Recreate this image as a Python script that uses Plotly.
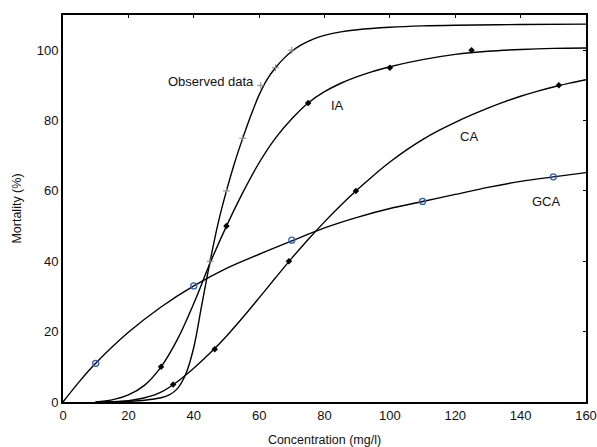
import plotly.graph_objects as go

# ---- observed / predicted data points ----
obs_x = [45, 50, 55, 60.5, 65, 70]
obs_y = [40, 60, 75, 90, 95, 100]

ia_x = [30, 50, 75, 100, 125]
ia_y = [10, 50, 85, 95, 100]

ca_x = [33.7, 46.4, 69.1, 89.6, 151.7]
ca_y = [5, 15, 40, 60, 90]

gca_x = [10, 40, 70, 110, 150]
gca_y = [11, 33, 46, 57, 64]

# ---- fitted curves ----
obs_cx = [10, 15, 20, 25, 30, 32.5, 35, 37.5, 40, 42.5, 45, 47.5, 50, 52.5, 55, 57.5, 60, 62.5, 65, 67.5, 70, 72.5, 75, 77.5, 80, 85, 90, 100, 110, 120, 140, 160]
obs_cy = [0, 0.05, 0.2, 0.5, 1.2, 2.0, 3.8, 7.8, 15.5, 27.8, 40, 51, 60, 68, 75, 81.5, 87.3, 91.8, 95, 97.6, 99.7, 101.3, 102.5, 103.5, 104.2, 105.2, 105.8, 106.5, 106.9, 107.1, 107.3, 107.4]

ia_cx = [10, 15, 20, 25, 30, 35, 40, 45, 50, 55, 60, 65, 70, 75, 80, 85, 90, 95, 100, 110, 120, 130, 140, 150, 160]
ia_cy = [0, 0.6, 2.0, 4.8, 10, 17.8, 28, 39.5, 50, 59.5, 68, 75, 80.5, 85, 88.2, 90.6, 92.5, 94, 95.3, 97.3, 98.8, 99.7, 100.2, 100.5, 100.6]

ca_cx = [10, 15, 20, 25, 30, 35, 40, 45, 50, 55, 60, 65, 70, 75, 80, 85, 90, 95, 100, 105, 110, 115, 120, 125, 130, 135, 140, 145, 150, 155, 160]
ca_cy = [0, 0.1, 0.4, 1.2, 2.8, 5.8, 9.6, 13.9, 18.7, 24.0, 29.6, 35.3, 40.9, 46.2, 51.2, 55.9, 60.3, 64.4, 68.2, 71.6, 74.6, 77.2, 79.5, 81.6, 83.55, 85.3, 86.9, 88.3, 89.55, 90.65, 91.6]

gca_cx = [0, 5, 10, 20, 30, 40, 50, 60, 70, 80, 90, 100, 110, 120, 130, 140, 150, 160]
gca_cy = [0, 5.8, 11, 19.8, 27, 33, 38, 42, 45.8, 49.5, 52.5, 55, 57, 59, 61, 62.7, 64, 65.2]

# ---- curve labels ----
lab_text = ["Observed data", "IA", "CA", "GCA"]
lab_x = [59, 84, 124.2, 148]
lab_y = [91, 84.4, 75.6, 57.1]
lab_anchor = ["right", "center", "center", "center"]

x_ticks = [0, 20, 40, 60, 80, 100, 120, 140, 160]
y_ticks = [0, 20, 40, 60, 80, 100]

FONT = "Arial, Liberation Sans, sans-serif"

fig = go.Figure()
line = dict(color="black", width=1.4, shape="spline", smoothing=1.0)
for cx, cy in [(gca_cx, gca_cy), (ca_cx, ca_cy), (ia_cx, ia_cy), (obs_cx, obs_cy)]:
    fig.add_trace(go.Scatter(x=cx, y=cy, mode="lines", line=line,
                             showlegend=False, hoverinfo="skip"))

fig.add_trace(go.Scatter(x=obs_x, y=obs_y, mode="markers", showlegend=False,
                         marker=dict(symbol="cross-thin", size=5, color="#888",
                                     line=dict(color="#888", width=1))))
fig.add_trace(go.Scatter(x=ia_x, y=ia_y, mode="markers", showlegend=False,
                         marker=dict(symbol="diamond", size=5, color="black")))
fig.add_trace(go.Scatter(x=ca_x, y=ca_y, mode="markers", showlegend=False,
                         marker=dict(symbol="diamond", size=5, color="black")))
fig.add_trace(go.Scatter(x=gca_x, y=gca_y, mode="markers", showlegend=False,
                         marker=dict(symbol="circle-open", size=6, color="#2f5fbf",
                                     line=dict(color="#2f5fbf", width=1.3))))

# invisible trace to activate top/right tick axes
fig.add_trace(go.Scatter(x=[0], y=[0], xaxis="x2", yaxis="y2", mode="markers",
                         marker=dict(opacity=0), showlegend=False, hoverinfo="skip"))

for t, x, y, a in zip(lab_text, lab_x, lab_y, lab_anchor):
    fig.add_annotation(x=x, y=y, text=t, showarrow=False, xanchor=a, yanchor="middle",
                       font=dict(family=FONT, size=13, color="#111"))

fig.update_layout(
    width=597, height=447,
    margin=dict(l=63, r=11, t=15, b=45),
    plot_bgcolor="white", paper_bgcolor="white",
    font=dict(family=FONT, size=13, color="#111"),
    xaxis=dict(range=[0, 160], tickvals=x_ticks, showgrid=False, zeroline=False,
               showline=True, linecolor="black", linewidth=1.8, mirror=True,
               ticks="", tickfont=dict(size=13, color="#111"), automargin=False,
               title=dict(text="Concentration (mg/l)", font=dict(size=12.5, color="#111"), standoff=18)),
    yaxis=dict(range=[0, 110], tickvals=y_ticks, showgrid=False, zeroline=False,
               showline=True, linecolor="black", linewidth=1.8, mirror=True,
               ticks="", tickfont=dict(size=13, color="#111"), automargin=False,
               title=dict(text="Mortality (%)", font=dict(size=12.5, color="#111"), standoff=12)),
    xaxis2=dict(range=[0, 160], tickvals=x_ticks, overlaying="x", side="top",
                showticklabels=False, ticks="inside", ticklen=3, tickcolor="black",
                showgrid=False, zeroline=False, showline=False, automargin=False),
    yaxis2=dict(range=[0, 110], tickvals=y_ticks, overlaying="y", side="right",
                showticklabels=False, ticks="inside", ticklen=3, tickcolor="black",
                showgrid=False, zeroline=False, showline=False, automargin=False),
)

fig.write_html("out.html")
